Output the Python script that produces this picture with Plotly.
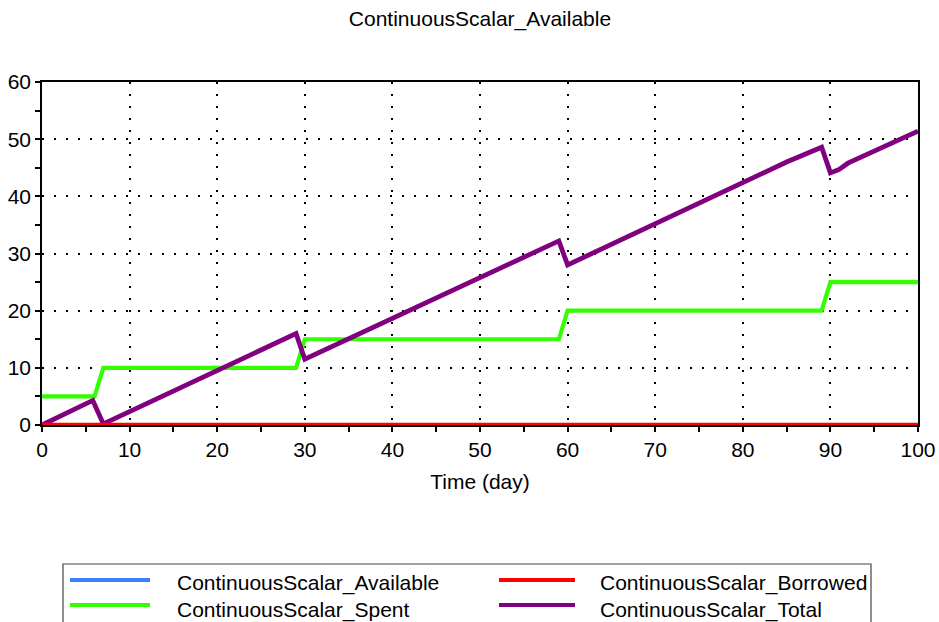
import plotly.graph_objects as go

# ---------------- data ----------------
time_available = [0, 100]
available = [0, 0]

time_borrowed = [0, 100]
borrowed = [0, 0]

time_spent = [0, 6, 7, 29, 30, 59, 60, 89, 90, 100]
spent = [5, 5, 10, 10, 15, 15, 20, 20, 25, 25]

time_total = [0, 5.8, 7, 29, 30, 59, 60, 85, 89, 90, 91, 92, 100]
total = [0, 4.3, 0.2, 16.0, 11.5, 32.2, 28.0, 46.0, 48.6, 44.1, 44.7, 45.8, 51.4]

series_names = ["ContinuousScalar_Available", "ContinuousScalar_Borrowed",
                "ContinuousScalar_Spent", "ContinuousScalar_Total"]
series_colors = ["#3f7fff", "#ff0000", "#33ff00", "#800080"]

title_text = "ContinuousScalar_Available"
x_title = "Time (day)"

# ---------------- layout geometry ----------------
W, H = 939, 622
L, R, T, B = 42, 918, 82, 425
FONT = "Liberation Sans, Arial, sans-serif"
FS = 21


def xp(px):
    return (px - L) / (R - L)


def yp(py):
    return (B - py) / (B - T)


fig = go.Figure()
fig.add_trace(go.Scatter(x=time_available, y=available, mode="lines",
                         line=dict(color=series_colors[0], width=4), name=series_names[0]))
fig.add_trace(go.Scatter(x=time_spent, y=spent, mode="lines",
                         line=dict(color=series_colors[2], width=4.2), name=series_names[2]))
fig.add_trace(go.Scatter(x=time_total, y=total, mode="lines",
                         line=dict(color=series_colors[3], width=4.8), name=series_names[3]))
fig.add_trace(go.Scatter(x=time_borrowed, y=borrowed, mode="lines",
                         line=dict(color=series_colors[1], width=4.5), name=series_names[1]))

axis_common = dict(showline=True, linecolor="black", linewidth=1.5, mirror=True,
                   showgrid=True, gridcolor="black", gridwidth=2, griddash="2px,10px",
                   zeroline=False, ticks="outside", ticklen=5, tickcolor="black",
                   tickwidth=1.5, tickfont=dict(family=FONT, size=FS, color="black"),
                   automargin=False, layer="below traces",
                   minor=dict(ticks="outside", ticklen=5, tickcolor="black", tickwidth=1.5,
                              showgrid=False, dtick=5))

fig.update_layout(
    width=W, height=H,
    margin=dict(l=L, r=W - R, t=T, b=H - B, autoexpand=False),
    paper_bgcolor="white", plot_bgcolor="white",
    showlegend=False,
    font=dict(family=FONT, size=FS, color="black"),
    title=dict(text=title_text, x=0.5, xref="paper", xanchor="center",
               y=1 - 19 / H, yanchor="middle",
               font=dict(family=FONT, size=FS, color="black")),
    xaxis=dict(range=[0, 100], dtick=10, tick0=0, **axis_common,
               title=dict(text=x_title, font=dict(family=FONT, size=FS), standoff=14)),
    yaxis=dict(range=[0, 60], dtick=10, tick0=0, **axis_common),
    xaxis2=dict(overlaying="x", anchor="y", side="bottom", range=[0, 100], dtick=10,
                showgrid=False, zeroline=False, showticklabels=False, automargin=False,
                layer="below traces",
                ticks="inside", ticklen=4, tickcolor="black", tickwidth=1.5,
                minor=dict(ticks="inside", ticklen=4, tickcolor="black", tickwidth=1.5, dtick=5)),
    yaxis2=dict(overlaying="y", anchor="x", side="left", range=[0, 60], dtick=10,
                showgrid=False, zeroline=False, showticklabels=False, automargin=False,
                layer="below traces",
                ticks="inside", ticklen=4, tickcolor="black", tickwidth=1.5,
                minor=dict(ticks="inside", ticklen=4, tickcolor="black", tickwidth=1.5, dtick=5)),
)

# ---------------- manual legend ----------------
shapes = [dict(type="rect", xref="paper", yref="paper",
               x0=xp(63), x1=xp(871), y0=yp(564), y1=yp(640),
               line=dict(color="#444", width=1.2), fillcolor="white", layer="above")]
annotations = []
legend_items = [
    (0, 70, 150, 175, 580, 583),
    (1, 499, 575, 598, 580, 583),
    (2, 70, 150, 175, 605, 610),
    (3, 499, 575, 598, 605, 610),
]
for idx, lx0, lx1, tx, ly, ty in legend_items:
    shapes.append(dict(type="line", xref="paper", yref="paper",
                       x0=xp(lx0), x1=xp(lx1), y0=yp(ly), y1=yp(ly),
                       line=dict(color=series_colors[idx], width=4), layer="above"))
    annotations.append(dict(text=series_names[idx], xref="paper", yref="paper",
                            x=xp(tx), y=yp(ty), xanchor="left", yanchor="middle",
                            showarrow=False, font=dict(family=FONT, size=FS, color="black")))
fig.update_layout(shapes=shapes, annotations=annotations)

fig.write_html("out.html",
               config={"displayModeBar": False},
               post_script="document.body.style.margin='0';document.body.style.overflow='hidden';")
